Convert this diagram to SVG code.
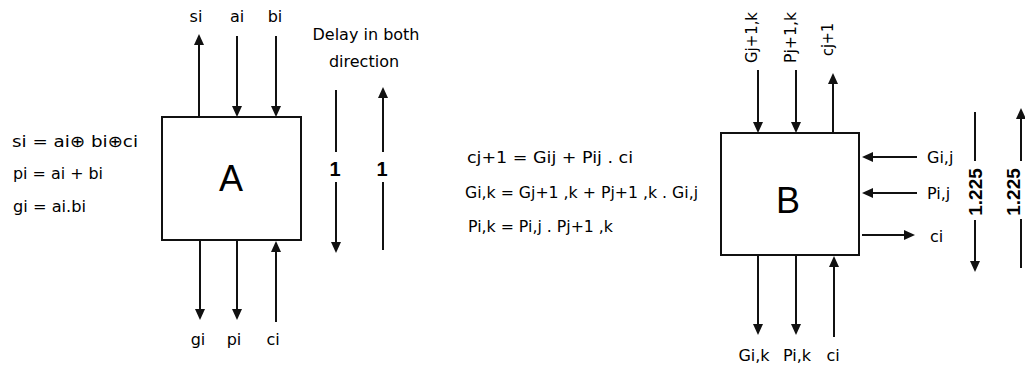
<svg xmlns="http://www.w3.org/2000/svg" width="1025" height="369" viewBox="0 0 1025 369">
<style>
text{font-family:"DejaVu Sans","Liberation Sans",sans-serif;fill:#000;font-size:16px}
.big{font-family:"Liberation Sans",Arial,sans-serif;font-size:36px}
.num{font-family:"Liberation Sans",Arial,sans-serif;font-weight:bold;font-size:20px}
.num2{font-family:"Liberation Sans",Arial,sans-serif;font-weight:bold;font-size:19px}
.box{fill:#fff;stroke:#111;stroke-width:2}
.c line{stroke:#111;stroke-width:2}
.a{marker-end:url(#ah)}
</style>
<defs>
<marker id="ah" markerUnits="userSpaceOnUse" markerWidth="12" markerHeight="11" refX="7" refY="5" orient="auto">
<path d="M0,0 L11,5 L0,10 z" fill="#111"/>
</marker>
</defs>
<rect width="1025" height="369" fill="#fff"/>

<g id="eqA">
<text x="12" y="147" textLength="126" lengthAdjust="spacingAndGlyphs">si = ai⊕ bi⊕ci</text>
<text x="13" y="179" textLength="90" lengthAdjust="spacingAndGlyphs">pi = ai + bi</text>
<text x="13" y="212" textLength="73" lengthAdjust="spacingAndGlyphs">gi = ai.bi</text>
</g>

<g id="nodeA">
<rect class="box" x="162" y="117" width="139" height="123"/>
<text class="big" x="231" y="191" text-anchor="middle">A</text>
</g>

<g id="labelsA">
<text x="196" y="22" text-anchor="middle">si</text>
<text x="237" y="22" text-anchor="middle">ai</text>
<text x="275" y="22" text-anchor="middle">bi</text>
<text x="198" y="345" text-anchor="middle">gi</text>
<text x="234" y="345" text-anchor="middle">pi</text>
<text x="273" y="345" text-anchor="middle">ci</text>
</g>

<g id="delayA">
<text x="366" y="40" text-anchor="middle" font-size="17">Delay in both</text>
<text x="364" y="67" text-anchor="middle" font-size="17">direction</text>
<text class="num" x="335" y="176" text-anchor="middle">1</text>
<text class="num" x="382" y="176" text-anchor="middle">1</text>
</g>

<g id="eqB">
<text x="467" y="163" textLength="166" lengthAdjust="spacingAndGlyphs">cj+1 = Gij  +  Pij . ci</text>
<text x="465" y="198" textLength="233" lengthAdjust="spacingAndGlyphs">Gi,k = Gj+1 ,k  + Pj+1 ,k  . Gi,j</text>
<text x="468" y="232" textLength="145" lengthAdjust="spacingAndGlyphs">Pi,k = Pi,j . Pj+1 ,k</text>
</g>

<g id="nodeB">
<rect class="box" x="721" y="133" width="138" height="122"/>
<text class="big" x="788" y="213" text-anchor="middle">B</text>
</g>

<g id="labelsB">
<text font-size="15" transform="translate(757,63) rotate(-90)" textLength="51" lengthAdjust="spacingAndGlyphs">Gj+1,k</text>
<text font-size="15" transform="translate(796,63) rotate(-90)" textLength="51" lengthAdjust="spacingAndGlyphs">Pj+1,k</text>
<text font-size="15" transform="translate(833,56) rotate(-90)" textLength="33" lengthAdjust="spacingAndGlyphs">cj+1</text>
<text x="927" y="163">Gi,j</text>
<text x="927" y="199">Pi,j</text>
<text x="930" y="242">ci</text>
<text x="754" y="361" text-anchor="middle">Gi,k</text>
<text x="797" y="361" text-anchor="middle">Pi,k</text>
<text x="833" y="361" text-anchor="middle">ci</text>
</g>

<g id="delayB">
<text class="num2" transform="translate(982,192) rotate(-90)" text-anchor="middle">1.225</text>
<text class="num2" transform="translate(1020,192) rotate(-90)" text-anchor="middle">1.225</text>
</g>

<g id="connectors" class="c">
<line class="a" x1="199" y1="117" x2="199" y2="38"/>
<line class="a" x1="237" y1="36" x2="237" y2="113"/>
<line class="a" x1="276" y1="36" x2="276" y2="113"/>
<line class="a" x1="200" y1="240" x2="200" y2="316"/>
<line class="a" x1="237" y1="240" x2="237" y2="316"/>
<line class="a" x1="276" y1="322" x2="276" y2="245"/>
<line x1="336" y1="90" x2="336" y2="152"/>
<line class="a" x1="336" y1="182" x2="336" y2="249"/>
<line class="a" x1="383" y1="152" x2="383" y2="91"/>
<line x1="383" y1="182" x2="383" y2="250"/>

<line class="a" x1="758" y1="70" x2="758" y2="129"/>
<line class="a" x1="796" y1="70" x2="796" y2="129"/>
<line class="a" x1="833" y1="133" x2="833" y2="77"/>
<line class="a" x1="758" y1="255" x2="758" y2="331"/>
<line class="a" x1="796" y1="255" x2="796" y2="331"/>
<line class="a" x1="834" y1="337" x2="834" y2="260"/>
<line class="a" x1="917" y1="157" x2="866" y2="157"/>
<line class="a" x1="917" y1="193" x2="866" y2="193"/>
<line class="a" x1="862" y1="235" x2="911" y2="235"/>
<line x1="975" y1="112" x2="975" y2="161"/>
<line class="a" x1="975" y1="220" x2="975" y2="268"/>
<line class="a" x1="1021" y1="161" x2="1021" y2="112"/>
<line x1="1021" y1="219" x2="1021" y2="268"/>
</g>
</svg>
